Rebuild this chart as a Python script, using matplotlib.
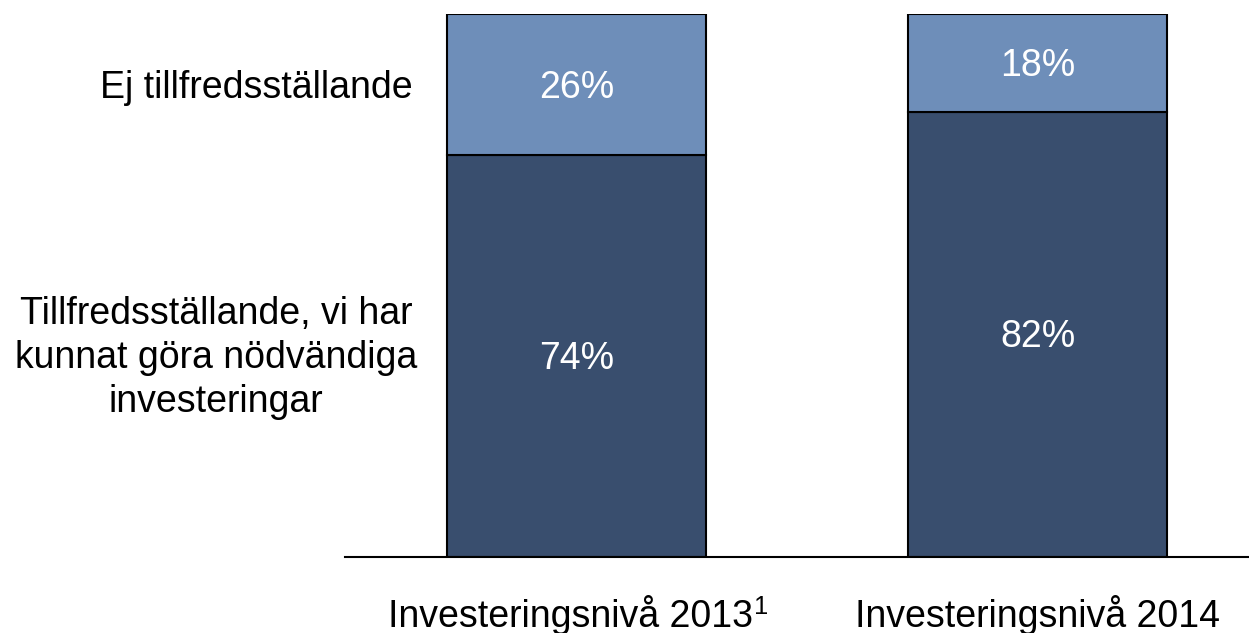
import matplotlib
matplotlib.use("Agg")
import matplotlib.pyplot as plt
from matplotlib.transforms import offset_copy

categories = ["Investeringsnivå 2013", "Investeringsnivå 2014"]
footnotes = ["1", ""]
satisfactory = [74, 82]
unsatisfactory = [26, 18]
series_labels = ["Tillfredsställande, vi har\nkunnat göra nödvändiga\ninvesteringar", "Ej tillfredsställande"]

plt.rcParams['font.family'] = ['Liberation Sans', 'DejaVu Sans']

W, H = 1249, 633
fig = plt.figure(figsize=(W/100, H/100), dpi=100)
ax = fig.add_axes([345/W, (H-557)/H, (W-345)/W, 543/H])

dark = "#394E6E"
light = "#6E8EB9"
FS = 27
x = list(range(len(categories)))
bw = 0.562
ax.bar(x, satisfactory, width=bw, color=dark, edgecolor="black", linewidth=1.5)
ax.bar(x, unsatisfactory, width=bw, bottom=satisfactory, color=light, edgecolor="black", linewidth=1.5)

lbl_tr = offset_copy(ax.transData, fig=fig, x=0, y=-3, units="dots")
for i in x:
    ax.text(i, satisfactory[i]/2, f"{satisfactory[i]}%", ha="center", va="center", color="white", fontsize=FS, transform=lbl_tr)
    ax.text(i, satisfactory[i] + unsatisfactory[i]/2, f"{unsatisfactory[i]}%", ha="center", va="center", color="white", fontsize=FS, transform=lbl_tr)

ax.set_xlim(-0.503, 1.458)
ax.set_ylim(0, 100)
for s in ["top", "right", "left"]:
    ax.spines[s].set_visible(False)
ax.spines["bottom"].set_linewidth(1.5)
ax.set_yticks([])
ax.set_xticks([])

renderer = fig.canvas.get_renderer()
trans = ax.get_xaxis_transform()
for i, (cat, fn) in enumerate(zip(categories, footnotes)):
    shift = -6 if fn else 0
    t = ax.text(i, 0, cat, ha="center", va="baseline", fontsize=FS,
                transform=offset_copy(trans, fig=fig, x=shift, y=-(627-557), units="dots"))
    if fn:
        bb = t.get_window_extent(renderer=renderer)
        fig.text((bb.x1 + 1)/W, (H-627+13)/H, fn, ha="left", va="baseline", fontsize=FS*0.68)

fig.text(413/W, 1-88/H, series_labels[1], ha="right", va="center", fontsize=FS)
fig.text(216/W, 1-358/H, series_labels[0], ha="center", va="center", fontsize=FS, multialignment="center", linespacing=1.3)

fig.savefig("out.png", dpi=100)
